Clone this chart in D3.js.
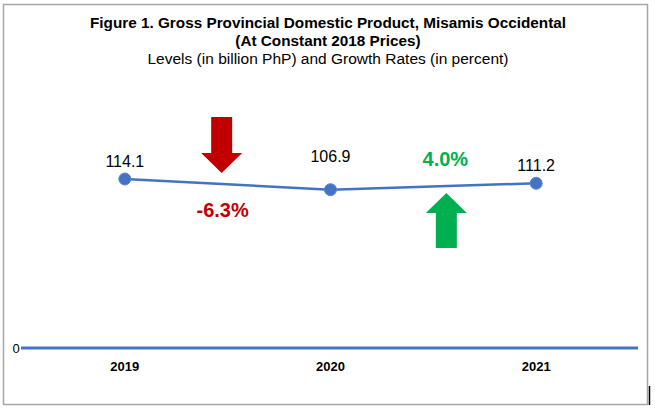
<!DOCTYPE html>
<html><head><meta charset="utf-8">
<script src="https://cdn.jsdelivr.net/npm/d3@7"></script>
<style>body{margin:0;background:#fff}svg{display:block;font-family:"Liberation Sans",Arial,sans-serif}</style>
</head><body>
<script>
const years = ["2019","2020","2021"];
const levels = [114.1, 106.9, 111.2];
const growthLabels = ["-6.3%", "4.0%"];
const growthValues = [-6.3, 4.0];
const yTicks = [0];

const W = 655, H = 410;
const svg = d3.select("body").append("svg").attr("width", W).attr("height", H);

svg.append("rect").attr("x", 3.5).attr("y", 4.5).attr("width", 644).attr("height", 400)
  .attr("fill", "#fff").attr("stroke", "#a6a6a6").attr("stroke-width", 1.5);
svg.append("line").attr("x1", 649.5).attr("x2", 649.5).attr("y1", 386).attr("y2", 405)
  .attr("stroke", "#000").attr("stroke-width", 1.5);

// titles
svg.append("text").attr("x", 328).attr("y", 28).attr("text-anchor", "middle")
  .attr("font-size", 15.3).attr("font-weight", "bold").text("Figure 1. Gross Provincial Domestic Product, Misamis Occidental");
svg.append("text").attr("x", 328).attr("y", 46).attr("text-anchor", "middle")
  .attr("font-size", 15.3).attr("font-weight", "bold").text("(At Constant 2018 Prices)");
svg.append("text").attr("x", 328).attr("y", 64).attr("text-anchor", "middle")
  .attr("font-size", 15.5).text("Levels (in billion PhP) and Growth Rates (in percent)");

const x = d3.scaleBand().domain(years).range([22, 639]);
const y = d3.scaleLinear().domain([0, 114.1]).range([348, 179]);
const cx = d => x(d) + x.bandwidth() / 2;

// zero axis
svg.append("line").attr("x1", 21).attr("x2", 638).attr("y1", y(0)).attr("y2", y(0))
  .attr("stroke", "#4472c4").attr("stroke-width", 3);
svg.selectAll(".ytick").data(yTicks).join("text").attr("x", 16).attr("y", d => y(d) + 4.5)
  .attr("text-anchor", "middle").attr("font-size", 13).text(d => d);
svg.selectAll(".xl").data(years).join("text").attr("x", d => cx(d)).attr("y", 371)
  .attr("text-anchor", "middle").attr("font-size", 13).attr("font-weight", "bold").text(d => d);

// line
const data = years.map((yr, i) => ({yr, v: levels[i]}));
svg.append("path").datum(data)
  .attr("d", d3.line().x(d => cx(d.yr)).y(d => y(d.v)))
  .attr("fill", "none").attr("stroke", "#4472c4").attr("stroke-width", 2.5);
svg.selectAll(".pt").data(data).join("circle").attr("cx", d => cx(d.yr)).attr("cy", d => y(d.v))
  .attr("r", 6).attr("fill", "#4472c4").attr("stroke", "#5b84cf").attr("stroke-width", 1);
const labelOff = [12, 28, 12];
svg.selectAll(".vl").data(data).join("text").attr("x", d => cx(d.yr)).attr("y", (d, i) => y(d.v) - labelOff[i])
  .attr("text-anchor", "middle").attr("font-size", 16).text(d => d.v.toFixed(1));

// growth arrows
function arrow(xc, yTop, yBot, up, color) {
  const hw = 20.5, sw = 10.5, head = 20;
  let pts;
  if (up) pts = [[xc, yTop],[xc+hw, yTop+head],[xc+sw, yTop+head],[xc+sw, yBot],[xc-sw, yBot],[xc-sw, yTop+head],[xc-hw, yTop+head]];
  else pts = [[xc, yBot],[xc+hw, yBot-head],[xc+sw, yBot-head],[xc+sw, yTop],[xc-sw, yTop],[xc-sw, yBot-head],[xc-hw, yBot-head]];
  svg.append("polygon").attr("points", pts.map(p => p.join(",")).join(" ")).attr("fill", color);
}
const mid0 = (cx(years[0]) + cx(years[1])) / 2;
const mid1 = (cx(years[1]) + cx(years[2])) / 2;
arrow(mid0 - 6, 117, 173, false, "#c00000");
svg.append("text").attr("x", mid0 - 5).attr("y", 217).attr("text-anchor", "middle")
  .attr("font-size", 20).attr("font-weight", "bold").attr("fill", "#c00000").text(growthLabels[0]);
arrow(mid1 + 13, 193, 248, true, "#00b050");
svg.append("text").attr("x", mid1 + 12).attr("y", 166).attr("text-anchor", "middle")
  .attr("font-size", 20).attr("font-weight", "bold").attr("fill", "#00b050").text(growthLabels[1]);
</script>
</body></html>
